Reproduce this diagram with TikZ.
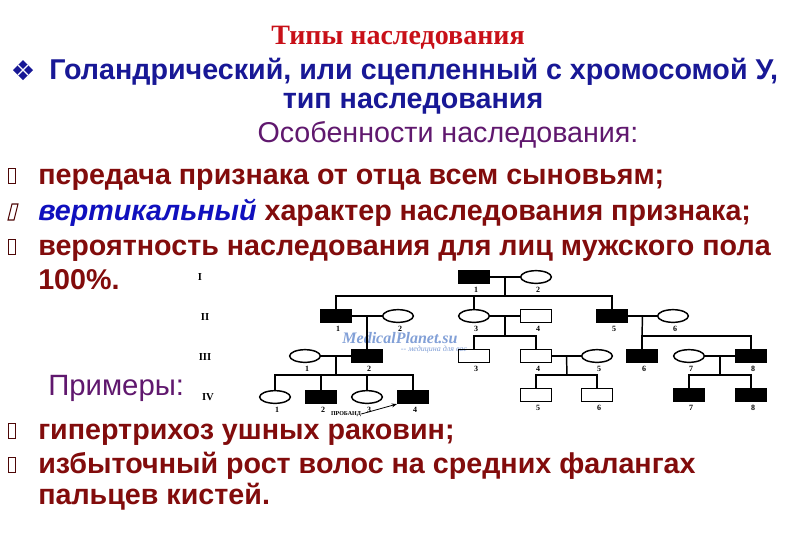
\documentclass[tikz,border=0pt]{standalone}
\usepackage{fontspec}
\setmainfont{Liberation Sans}
\newfontfamily\titlefont{Liberation Serif}
\usetikzlibrary{shapes.geometric,arrows.meta,calc}
\definecolor{titlered}{RGB}{200,16,24}
\definecolor{headblue}{RGB}{24,24,150}
\definecolor{hdviolet}{RGB}{96,24,110}
\definecolor{textred}{RGB}{130,12,12}
\definecolor{itblue}{RGB}{16,16,190}
\definecolor{wmark}{RGB}{130,160,215}

\begin{document}
\begin{tikzpicture}[x=0.75pt,y=-0.75pt]
	\tikzstyle{male}=[rectangle,draw,line width=1.1pt,minimum width=23pt,minimum height=9.5pt,inner sep=0pt]
	\tikzstyle{affected}=[male,fill=black]
	\tikzstyle{female}=[ellipse,draw,line width=1.1pt,minimum width=23pt,minimum height=9.5pt,inner sep=0pt]
	\tikzstyle{num}=[font=\titlefont\bfseries\fontsize{6}{6}\selectfont,inner sep=0pt]
	\tikzstyle{gen}=[font=\titlefont\bfseries\fontsize{8}{8}\selectfont,inner sep=0pt]
	\tikzstyle{bodyline}=[font=\bfseries\fontsize{21.5}{24}\selectfont,text=textred,anchor=base west,inner sep=0pt]
	\tikzstyle{bulletbox}=[rectangle,draw=textred!60!black,line width=0.8pt,minimum width=5pt,minimum height=11.5pt,inner sep=0pt]
	\tikzstyle{link}=[line width=1.1pt]
	
	\useasboundingbox (0,0) rectangle (800,554);
	\fill[white] (0,0) rectangle (800,554);
	
	\node[font=\titlefont\bfseries\fontsize{21}{24}\selectfont,text=titlered,anchor=base] (title) at (398,44) {Типы наследования};
	
	\coordinate (dm) at (23,70);
	\fill[headblue] (dm) +(0,-10) -- +(10,0) -- +(0,10) -- +(-10,0) -- cycle;
	\draw[white,line width=0.9pt] (dm) +(-5,-5) -- +(5,5) (dm) +(5,-5) -- +(-5,5);
	\node[bodyline,text=headblue] (head1) at (49,79) {Голандрический, или сцепленный с хромосомой У,};
	\node[bodyline,text=headblue,anchor=base] (head2) at (413,108) {тип наследования};
	\node[bodyline,font=\fontsize{21.5}{24}\selectfont,text=hdviolet,anchor=base] (feat) at (448,142) {Особенности наследования:};
	
	\node[bulletbox] (b1) at (12,176) {};
	\node[bodyline] (t1) at (38,184) {передача признака от отца всем сыновьям;};
	\coordinate (b2) at (12,212);
	\draw[textred!60!black,line width=0.8pt] (b2) ++(-4,8) -- ++(6,0) -- ++(4,-16) -- ++(-6,0) -- cycle;
	\node[bodyline] (t2) at (38,220) {{\color{itblue}\itshape вертикальный} характер наследования признака;};
	\node[bulletbox] (b3) at (12,247) {};
	\node[bodyline] (t3) at (38,255) {вероятность наследования для лиц мужского пола};
	\node[bodyline] (t4) at (38,289) {100\%.};
	
	\node[bodyline,font=\fontsize{22}{24}\selectfont,text=hdviolet] (ex) at (48,395) {Примеры:};
	\node[bulletbox] (b4) at (12,431) {};
	\node[bodyline] (t5) at (38,439) {гипертрихоз ушных раковин;};
	\node[bulletbox] (b5) at (12,465) {};
	\node[bodyline] (t6) at (38,473) {избыточный рост волос на средних фалангах};
	\node[bodyline] (t7) at (38,504) {пальцев кистей.};
	
	\node[gen] (g1) at (200,277) {I};
	\node[gen] (g2) at (205,317) {II};
	\node[gen] (g3) at (205,357) {III};
	\node[gen] (g4) at (208,397) {IV};
	
	\node[font=\titlefont\itshape\bfseries\fontsize{12}{12}\selectfont,text=wmark,inner sep=1pt] (wm1) at (400,338) {MedicalPlanet.su};
	\node[font=\titlefont\itshape\fontsize{6}{6}\selectfont,text=wmark,inner sep=1pt] (wm2) at (434,350) {-- медицина для вас};
	
	\node[affected] (p11) at (474,277) {};
	\node[female] (p12) at (536,277) {};
	
	\node[affected] (p21) at (336,316) {};
	\node[female] (p22) at (398,316) {};
	\node[female] (p23) at (474,316) {};
	\node[male] (p24) at (536,316) {};
	\node[affected] (p25) at (612,316) {};
	\node[female] (p26) at (673,316) {};
	
	\node[female] (p31) at (305,356) {};
	\node[affected] (p32) at (367,356) {};
	\node[male] (p33) at (474,356) {};
	\node[male] (p34) at (536,356) {};
	\node[female] (p35) at (597,356) {};
	\node[affected] (p36) at (642,356) {};
	\node[female] (p37) at (689,356) {};
	\node[affected] (p38) at (751,356) {};
	
	\node[female] (p41) at (275,397) {};
	\node[affected] (p42) at (321,397) {};
	\node[female] (p43) at (367,397) {};
	\node[affected] (p44) at (413,397) {};
	\node[male] (p45) at (536,395) {};
	\node[male] (p46) at (597,395) {};
	\node[affected] (p47) at (689,395) {};
	\node[affected] (p48) at (751,395) {};
	
	\foreach \p/\t in {p11/1,p12/2,p21/1,p22/2,p23/3,p24/4,p25/5,p26/6,p31/1,p32/2,p33/3,p34/4,p35/5,p36/6,p37/7,p38/8,p41/1,p42/2,p43/3,p44/4,p45/5,p46/6,p47/7,p48/8}
		\node[num,anchor=north] (n\p) at ($(\p.south)+(2,2.5)$) {\t};
	
	\coordinate (m1) at ($(p11)!0.5!(p12)$);
	\coordinate (s1) at (505,296);
	\coordinate (m2) at ($(p21)!0.5!(p22)$);
	\coordinate (m3) at ($(p23)!0.5!(p24)$);
	\coordinate (s3) at (505,336);
	\coordinate (m4) at ($(p25)!0.5!(p26)$);
	\coordinate (s4) at (642,336);
	\coordinate (m5) at ($(p31)!0.5!(p32)$);
	\coordinate (s5) at (336,375);
	\coordinate (m6) at ($(p34)!0.5!(p35)$);
	\coordinate (s6) at (567,375);
	\coordinate (m7) at ($(p37)!0.5!(p38)$);
	\coordinate (s7) at (720,375);
	
	\draw[link] (p11) -- (p12);
	\draw[link] (m1) -- (s1);
	\draw[link] (p21) |- (s1) -| (p25);
	\draw[link] (p23) -- (p23 |- s1);
	
	\draw[link] (p21) -- (p22);
	\draw[link] (m2) -- (p32);
	\draw[link] (p23) -- (p24);
	\draw[link] (m3) -- (s3);
	\draw[link] (p33) |- (s3) -| (p34);
	\draw[link] (p25) -- (p26);
	\draw[link] (m4) -- (s4);
	\draw[link] (p36) |- (s4) -| (p38);
	
	\draw[link] (p31) -- (p32);
	\draw[link] (m5) -- (s5);
	\draw[link] (p41) |- (s5) -| (p44);
	\draw[link] (p42) -- (p42 |- s5);
	\draw[link] (p43) -- (p43 |- s5);
	\draw[link] (p34) -- (p35);
	\draw[link] (m6) -- (s6);
	\draw[link] (p45) |- (s6) -| (p46);
	\draw[link] (p37) -- (p38);
	\draw[link] (m7) -- (s7);
	\draw[link] (p47) |- (s7) -| (p48);
	
	\node[font=\titlefont\bfseries\fontsize{4.5}{5}\selectfont,inner sep=0pt] (prob) at (346,414) {ПРОБАНД};
	\draw[-{Stealth[length=4pt,width=3pt]},line width=0.6pt] (prob.east) -- (p44.south west);
\end{tikzpicture}
\end{document}
